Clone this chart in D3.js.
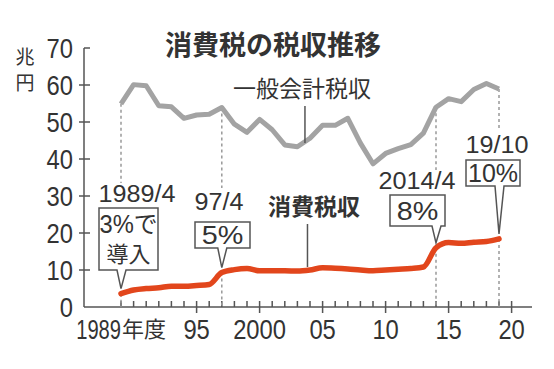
<!DOCTYPE html>
<html>
<head>
<meta charset="utf-8">
<script src="https://cdn.jsdelivr.net/npm/d3@7"></script>
<style>
  body { margin: 0; background: #fff; }
  svg text { fill: #333; }
</style>
</head>
<body>
<div id="chart"></div>
<script>
// fiscal years and revenue (trillion yen)
var years = d3.range(1989, 2020);
var generalTax = [54.9, 60.1, 59.8, 54.4, 54.1, 51.0, 51.9, 52.1, 53.9, 49.4,
                  47.2, 50.7, 47.9, 43.8, 43.3, 45.6, 49.1, 49.1, 51.0, 44.3,
                  38.7, 41.5, 42.8, 43.9, 47.0, 54.0, 56.3, 55.5, 58.8, 60.4, 58.9];
var consumptionTax = [3.6, 4.6, 5.0, 5.2, 5.6, 5.6, 5.8, 6.1, 9.3, 10.1,
                      10.4, 9.8, 9.8, 9.8, 9.7, 10.0, 10.6, 10.5, 10.3, 10.0,
                      9.8, 10.0, 10.2, 10.4, 10.8, 16.0, 17.4, 17.2, 17.5, 17.7, 18.4];
var yTicks = [0, 10, 20, 30, 40, 50, 60, 70];
var xMajor = [1995, 2000, 2005, 2010, 2015, 2020];
var xMajorLabels = ["95", "2000", "05", "10", "15", "20"];
var rateYears = [1989, 1997, 2014, 2019];
var rateDates = ["1989/4", "97/4", "2014/4", "19/10"];
var rateTexts = [["3%で", "導入"], ["5%"], ["8%"], ["10%"]];

var width = 554, height = 369;
var numFont = "'Liberation Sans', Arial, sans-serif";
var jpFont = "'Noto Sans CJK JP', sans-serif";

var svg = d3.select("#chart").append("svg")
    .attr("width", width)
    .attr("height", height);

var x = d3.scaleLinear().domain([1989, 2020]).range([121, 511.6]);
var y = d3.scaleLinear().domain([0, 70]).range([307, 48]);

var axisX0 = 84, axisX1 = 532;

// numerals in the reference are tall and narrow: squeeze horizontally
function numText(px, py, anchor, size, str, sx, font) {
    return svg.append("g")
        .attr("transform", "translate(" + px + "," + py + ") scale(" + sx + ",1)")
        .append("text")
        .attr("text-anchor", anchor)
        .attr("font-family", font || numFont)
        .attr("font-size", size)
        .text(str);
}

// title
svg.append("text")
    .attr("x", 165).attr("y", 55)
    .attr("font-family", jpFont)
    .attr("font-size", 27)
    .attr("font-weight", "bold")
    .text("消費税の税収推移");

// unit, vertical
svg.append("text").attr("x", 25).attr("y", 64)
    .attr("text-anchor", "middle").attr("font-family", jpFont).attr("font-size", 19)
    .text("兆");
svg.append("text").attr("x", 25).attr("y", 90)
    .attr("text-anchor", "middle").attr("font-family", jpFont).attr("font-size", 19)
    .text("円");

// axes
var ax = svg.append("g").attr("stroke", "#555").attr("stroke-width", 1.5);
ax.append("line").attr("x1", axisX0).attr("x2", axisX0).attr("y1", y(70)).attr("y2", y(0));
ax.append("line").attr("x1", axisX0).attr("x2", axisX1).attr("y1", y(0)).attr("y2", y(0));

yTicks.forEach(function(v) {
    if (v > 0) {
        ax.append("line")
            .attr("x1", v == 70 ? axisX0 : axisX0 - 5).attr("x2", axisX0 + 6)
            .attr("y1", y(v)).attr("y2", y(v));
    }
    numText(73, y(v) + 10, "end", 27, v, 0.88);
});

// x ticks: every year, longer every 5
d3.range(1989, 2021).forEach(function(yr) {
    var major = xMajor.indexOf(yr) >= 0;
    ax.append("line")
        .attr("x1", x(yr)).attr("x2", x(yr))
        .attr("y1", y(0) - 6).attr("y2", major ? y(0) + 6 : y(0));
});

numText(121, 339, "end", 28, "1989", 0.72);
svg.append("text").attr("x", 122).attr("y", 337)
    .attr("font-family", jpFont).attr("font-size", 22).text("年度");

xMajor.forEach(function(yr, i) {
    numText(x(yr), 339, "middle", 28, xMajorLabels[i], 0.85);
});

// dashed guides at rate changes
var dashTop = [183, 188, 170, 130];
rateYears.forEach(function(yr, i) {
    var idx = years.indexOf(yr);
    svg.append("line")
        .attr("x1", x(yr)).attr("x2", x(yr))
        .attr("y1", y(generalTax[idx])).attr("y2", dashTop[i])
        .attr("stroke", "#999").attr("stroke-width", 1.5).attr("stroke-dasharray", "3,3");
    svg.append("line")
        .attr("x1", x(yr)).attr("x2", x(yr))
        .attr("y1", y(consumptionTax[idx])).attr("y2", y(0))
        .attr("stroke", "#999").attr("stroke-width", 1.5).attr("stroke-dasharray", "3,3");
});

var line = d3.line()
    .x(function(d, i) { return x(years[i]); })
    .y(function(d) { return y(d); })
    .curve(d3.curveLinear);

svg.append("path")
    .datum(generalTax)
    .attr("d", line)
    .attr("fill", "none")
    .attr("stroke", "#a3a3a3")
    .attr("stroke-width", 5)
    .attr("stroke-linejoin", "round");

svg.append("path")
    .datum(consumptionTax)
    .attr("d", line.curve(d3.curveMonotoneX))
    .attr("fill", "none")
    .attr("stroke", "#e2461c")
    .attr("stroke-width", 5.5)
    .attr("stroke-linejoin", "round")
    .attr("stroke-linecap", "round");

// series labels with leader lines
svg.append("text").attr("x", 233).attr("y", 97)
    .attr("font-family", jpFont).attr("font-size", 23).text("一般会計税収");
svg.append("line")
    .attr("x1", x(2003.6)).attr("x2", x(2003.6))
    .attr("y1", 106).attr("y2", y(43.5) - 3)
    .attr("stroke", "#555").attr("stroke-width", 1.5);

svg.append("text").attr("x", 268).attr("y", 215)
    .attr("font-family", jpFont).attr("font-size", 23).attr("font-weight", "bold").text("消費税収");
svg.append("line")
    .attr("x1", x(2003.8)).attr("x2", x(2003.8))
    .attr("y1", 224).attr("y2", y(10) - 3)
    .attr("stroke", "#555").attr("stroke-width", 1.5);

// callout boxes (layout only)
var boxes = [
    { dateX: 137, dateY: 202, x0: 99, x1: 158, y0: 208, y1: 270 },
    { dateX: 219, dateY: 210, x0: 195, x1: 250, y0: 222, y1: 248 },
    { dateX: 417, dateY: 189, x0: 390, x1: 445, y0: 195, y1: 226 },
    { dateX: 497, dateY: 153, x0: 466, x1: 520, y0: 160, y1: 186 }
];

rateYears.forEach(function(yr, i) {
    var b = boxes[i];
    var idx = years.indexOf(yr);
    var tx = x(yr), ty = y(consumptionTax[idx]) - 5;
    var p = d3.path();
    p.moveTo(b.x0, b.y0);
    p.lineTo(b.x1, b.y0);
    p.lineTo(b.x1, b.y1);
    p.lineTo(tx + 5, b.y1);
    p.lineTo(tx, ty);
    p.lineTo(tx - 4, b.y1);
    p.lineTo(b.x0, b.y1);
    p.closePath();
    svg.append("path")
        .attr("d", p.toString())
        .attr("fill", "#fff")
        .attr("stroke", "#555")
        .attr("stroke-width", 1.5);

    numText(b.dateX, b.dateY, "middle", 24, rateDates[i], 1.05);

    var lines = rateTexts[i];
    var cx = (b.x0 + b.x1) / 2;
    if (lines.length > 1) {
        numText(cx, b.y0 + 25, "middle", 25, lines[0], 0.95, numFont + ", " + jpFont);
        svg.append("text")
            .attr("x", cx).attr("y", b.y0 + 54)
            .attr("text-anchor", "middle")
            .attr("font-family", jpFont).attr("font-size", 22)
            .text(lines[1]);
    } else {
        numText(cx, (b.y0 + b.y1) / 2 + 9, "middle", 25, lines[0], lines[0].length > 2 ? 1.0 : 1.15);
    }
});
</script>
</body>
</html>
